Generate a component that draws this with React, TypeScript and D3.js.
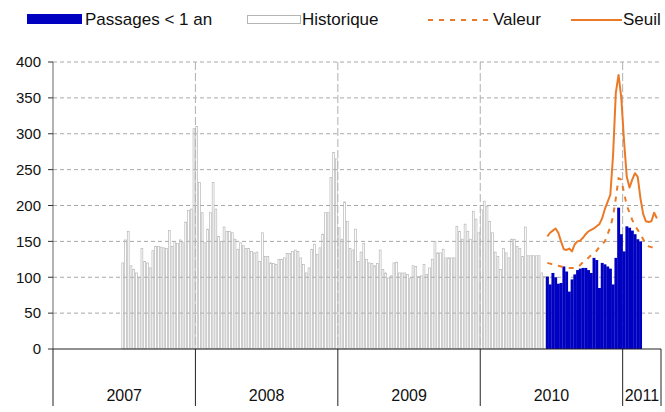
import React from "react";
import * as d3 from "d3";

const years = ["2007", "2008", "2009", "2010", "2011"];
const weeksPerYear = [52, 52, 52, 52, 14];

// historique: weekly counts, 2007 week 26 -> 2010 week 24
const historiqueStart = "2007-S26";
const historique = [
  120, 152, 164, 116, 111, 106, 100, 140, 122, 120, 113, 137, 143, 143, 142, 141, 140, 165, 143, 150,
  147, 152, 148, 177, 193, 195, 307, 310,
  232, 190, 148, 167, 190, 232, 195, 157, 150, 170, 164, 164, 162, 153, 139, 148, 144, 140, 140, 136,
  134, 135, 122, 162, 129, 129, 120, 119, 118, 125, 125, 127, 133, 133, 136, 138,
  136, 127, 118, 106, 113, 139, 146, 132, 141, 160, 190, 190, 239, 274, 265, 169, 153, 205, 178, 140,
  138, 167, 122, 135, 147, 125, 120, 119, 116, 119,
  138, 111, 106, 99, 102, 120, 121, 106, 106, 106, 104, 98, 116, 115, 101, 102, 118, 104, 113, 125,
  150, 134, 134, 139, 127, 127, 127, 127,
  171, 164, 153, 174, 164, 153, 192, 181, 162, 194, 206, 199, 178, 162, 135, 129, 111, 140, 134, 127,
  153, 153, 143, 140, 129, 170, 130, 130, 130, 130, 130, 106, 101,
];

// current season, 2010 week 25 onwards
const currentStart = "2010-S25";
const passages = [
  101, 90, 106, 100, 91, 92, 115, 108, 80, 97, 104, 110, 112, 113, 113, 110, 106, 127, 124, 85,
  120, 118, 115, 112, 90, 127, 197, 160, 136, 171, 169, 165, 160, 153, 150,
];
const valeur = [
  120, 119, 118, 117, 116, 115, 114, 113, 113, 113, 113, 114, 117, 121, 124, 127, 131, 134, 137, 142,
  146, 150, 160, 170, 185, 210, 238, 236, 218, 200, 190, 180, 172, 166, 160, 153, 146, 143, 142, 141, 140,
];
const seuil = [
  157, 162, 165, 168, 162, 150, 139, 138, 140, 136, 146, 150, 151, 155, 160, 164, 166, 168, 171, 174,
  182, 195, 205, 215, 270, 357, 382, 350, 290, 240, 225, 236, 245, 240, 210, 188, 178, 177, 178, 190, 182,
];

const yTicks = [0, 50, 100, 150, 200, 250, 300, 350, 400];

const weeks: string[] = [];
years.forEach((y, i) => {
  for (let w = 1; w <= weeksPerYear[i]; w++) weeks.push(`${y}-S${w}`);
});

const W = 665;
const H = 412;
const left = 53;
const right = 661;
const top = 62;
const bottom = 349;

const BLUE = "#0000c0";
const ORANGE = "#ea7a28";
const FONT = "Arial, 'Liberation Sans', sans-serif";

export default function App() {
  const x = d3.scaleBand<string>().domain(weeks).range([left, right]).padding(0);
  const y = d3.scaleLinear().domain([0, 400]).range([bottom, top]);
  const bw = x.bandwidth();

  const h0 = weeks.indexOf(historiqueStart);
  const c0 = weeks.indexOf(currentStart);

  const histData = historique.map((v, i) => ({ wk: weeks[h0 + i], v }));
  const passData = passages.map((v, i) => ({ wk: weeks[c0 + i], v }));
  const valData = valeur.map((v, i) => ({ wk: weeks[c0 + i], v }));
  const seuilData = seuil.map((v, i) => ({ wk: weeks[c0 + i], v }));

  const line = d3
    .line<{ wk: string; v: number }>()
    .x((d) => (x(d.wk) as number) + bw / 2)
    .y((d) => y(d.v));

  // year boundaries
  const bounds: number[] = [];
  let acc = 0;
  weeksPerYear.forEach((n) => {
    bounds.push(x(weeks[acc]) as number);
    acc += n;
  });
  bounds.push(right);

  return (
    <svg
      width={W}
      height={H}
      style={{ position: "absolute", left: 0, top: 0, background: "#fff" }}
      fontFamily={FONT}
    >
      {/* legend */}
      <g fontSize={17} fill="#111">
        <rect x={27} y={14} width={55} height={10} fill={BLUE} />
        <text x={85} y={25}>Passages &lt; 1 an</text>
        <rect x={247.5} y={15.5} width={53} height={8} fill="#fff" stroke="#b5b5b5" />
        <text x={302} y={25}>Historique</text>
        <line x1={428} x2={492} y1={20} y2={20} stroke={ORANGE} strokeWidth={2} strokeDasharray="5,6" />
        <text x={493} y={25}>Valeur</text>
        <line x1={571} x2={622} y1={20} y2={20} stroke={ORANGE} strokeWidth={2} />
        <text x={623} y={25}>Seuil</text>
      </g>

      {/* horizontal grid */}
      {yTicks.filter((t) => t > 0).map((t) => (
        <line key={t} x1={left} x2={right} y1={y(t)} y2={y(t)} stroke="#a8a8a8" strokeDasharray="4,3" />
      ))}
      {/* vertical year grid */}
      {bounds.slice(1, -1).map((b, i) => (
        <line key={i} x1={b} x2={b} y1={top} y2={bottom} stroke="#b0b0b0" strokeDasharray="8,3" />
      ))}

      {/* historique bars */}
      {histData.map((d, i) => (
        <rect
          key={i}
          x={(x(d.wk) as number) + 0.35}
          y={y(d.v)}
          width={bw - 0.9}
          height={bottom - y(d.v)}
          fill="none"
          stroke="#b8b8b8"
          strokeWidth={0.7}
        />
      ))}

      {/* passages bars */}
      {passData.map((d, i) => (
        <rect
          key={i}
          x={x(d.wk) as number}
          y={y(d.v)}
          width={bw + 0.2}
          height={bottom - y(d.v)}
          fill={BLUE}
        />
      ))}

      <path d={line(valData) || ""} fill="none" stroke={ORANGE} strokeWidth={2} strokeDasharray="5,6" />
      <path d={line(seuilData) || ""} fill="none" stroke={ORANGE} strokeWidth={2} strokeLinejoin="round" />

      {/* y axis */}
      <line x1={left} x2={left} y1={top} y2={bottom} stroke="#666" />
      {yTicks.map((t) => (
        <g key={t} transform={`translate(0,${y(t)})`}>
          <line x1={48} x2={left} stroke="#333" />
          <text x={41} dy="0.35em" textAnchor="end" fontSize={15} fill="#111">{t}</text>
        </g>
      ))}

      {/* x axis */}
      <line x1={left} x2={right} y1={bottom} y2={bottom} stroke="#222" />
      {bounds.map((b, i) => (
        <line key={i} x1={b} x2={b} y1={bottom} y2={406} stroke="#222" />
      ))}
      {years.map((yr, i) => (
        <text
          key={yr}
          x={(bounds[i] + bounds[i + 1]) / 2}
          y={401}
          textAnchor="middle"
          fontSize={16}
          fill="#111"
        >
          {yr}
        </text>
      ))}
    </svg>
  );
}
